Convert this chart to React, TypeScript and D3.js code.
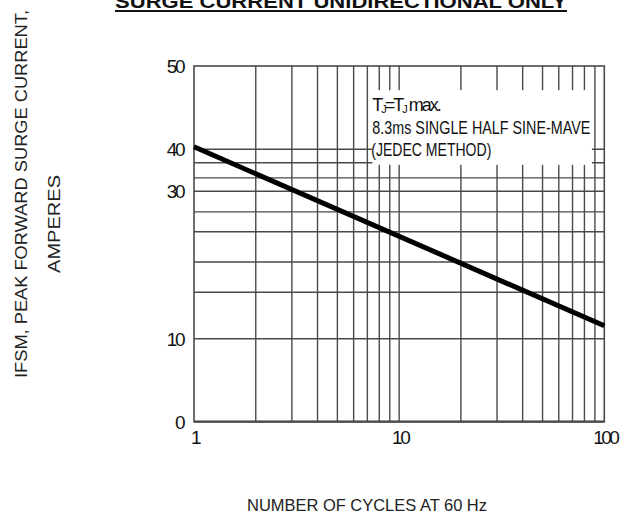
import React from "react";
import * as d3 from "d3";

const xTickValues = [1, 10, 100];
const yTickValues = [0, 10, 30, 40, 50];
const yGridValues = [16.3, 20.4, 24.5, 27.2, 33.2, 36.8];
const cycles = [1, 100];
const surgeCurrent = [40.3, 11.75];
const title = "SURGE CURRENT UNIDIRECTIONAL ONLY";
const yLabel1 = "IFSM, PEAK FORWARD SURGE CURRENT,";
const yLabel2 = "AMPERES";
const xLabel = "NUMBER OF CYCLES AT 60 Hz";
const noteLine2 = "8.3ms SINGLE HALF SINE-MAVE";
const noteLine3 = "(JEDEC METHOD)";

const W = 627;
const H = 517;
const plot = { left: 194, right: 604.3, top: 66, bottom: 421.7 };
const FONT = "'Liberation Sans', Arial, Helvetica, sans-serif";
const GRID = "#4a4a4a";

export default function App() {
  const ph = plot.bottom - plot.top;
  const x = d3.scaleLog().domain([1, 100]).range([plot.left, plot.right]);
  const yFrac = [0, 0.2333, 0.6478, 0.7658, 1];
  const y = d3
    .scaleLinear()
    .domain(yTickValues)
    .range(yFrac.map((f) => plot.bottom - f * ph));

  const xGrid = x.ticks().filter((v) => v > 1 && v < 100);
  const line = d3
    .line<number>()
    .x((_, i) => x(cycles[i]))
    .y((d) => y(d));

  const boxX0 = x(7.4);
  const boxX1 = x(87);
  const boxY0 = y(47.1);
  const boxY1 = y(36.3);

  return (
    <svg
      width={W}
      height={H}
      style={{ position: "absolute", left: 0, top: 0, background: "#fff" }}
    >
      <text
        x={115}
        y={7.5}
        fontFamily={FONT}
        fontWeight="bold"
        fontSize={18}
        fill="#111"
        textLength={452}
        lengthAdjust="spacingAndGlyphs"
      >
        {title}
      </text>
      <line x1={115} x2={567} y1={11} y2={11} stroke="#111" strokeWidth={2} />

      {yGridValues.concat([10, 30, 40]).map((v) => (
        <line
          key={"h" + v}
          x1={plot.left}
          x2={plot.right}
          y1={y(v)}
          y2={y(v)}
          stroke={GRID}
          strokeWidth={1.4}
        />
      ))}
      {xGrid.map((v) => (
        <line
          key={"v" + v}
          x1={x(v)}
          x2={x(v)}
          y1={plot.top}
          y2={plot.bottom}
          stroke={GRID}
          strokeWidth={1.4}
        />
      ))}

      <rect
        x={boxX0}
        y={boxY0}
        width={boxX1 - boxX0}
        height={boxY1 - boxY0}
        fill="#fff"
      />
      <text
        x={boxX0}
        y={boxY0 + 21}
        fontFamily={FONT}
        fontSize={18}
        fill="#111"
        letterSpacing={-2}
      >
        T<tspan fontSize={11} dy={2}>J</tspan>
        <tspan dy={-2}>=T</tspan>
        <tspan fontSize={11} dy={2}>J</tspan>
        <tspan dy={-2}> max.</tspan>
      </text>
      <text
        x={boxX0}
        y={boxY0 + 44}
        fontFamily={FONT}
        fontSize={18}
        fill="#111"
        textLength={218}
        lengthAdjust="spacingAndGlyphs"
      >
        {noteLine2}
      </text>
      <text
        x={boxX0 - 1}
        y={boxY0 + 66}
        fontFamily={FONT}
        fontSize={18}
        fill="#111"
        textLength={120}
        lengthAdjust="spacingAndGlyphs"
      >
        {noteLine3}
      </text>

      <rect
        x={plot.left}
        y={plot.top}
        width={plot.right - plot.left}
        height={plot.bottom - plot.top}
        fill="none"
        stroke={GRID}
        strokeWidth={1.6}
      />
      <line
        x1={plot.left}
        x2={plot.right}
        y1={plot.bottom}
        y2={plot.bottom}
        stroke={GRID}
        strokeWidth={2.2}
      />

      <path
        d={line(surgeCurrent) || ""}
        fill="none"
        stroke="#000"
        strokeWidth={5}
      />

      {yTickValues.map((v) => (
        <text
          key={"yt" + v}
          x={183}
          y={y(v)}
          dy="0.36em"
          textAnchor="end"
          fontFamily={FONT}
          fontSize={19}
          letterSpacing={-2.5}
          fill="#111"
        >
          {v}
        </text>
      ))}
      {xTickValues.map((v) => (
        <text
          key={"xt" + v}
          x={x(v) + 1}
          y={444}
          textAnchor="middle"
          fontFamily={FONT}
          fontSize={19}
          letterSpacing={-2.5}
          fill="#111"
        >
          {v}
        </text>
      ))}

      <text
        transform={`translate(27,194) rotate(-90)`}
        textAnchor="middle"
        fontFamily={FONT}
        fontSize={16}
        fill="#222"
        textLength={368}
        lengthAdjust="spacingAndGlyphs"
      >
        {yLabel1}
      </text>
      <text
        transform={`translate(60,224) rotate(-90)`}
        textAnchor="middle"
        fontFamily={FONT}
        fontSize={16}
        fill="#222"
        textLength={98}
        lengthAdjust="spacingAndGlyphs"
      >
        {yLabel2}
      </text>
      <text
        x={367}
        y={511}
        textAnchor="middle"
        fontFamily={FONT}
        fontSize={17}
        fill="#222"
        textLength={240}
        lengthAdjust="spacingAndGlyphs"
      >
        {xLabel}
      </text>
    </svg>
  );
}
